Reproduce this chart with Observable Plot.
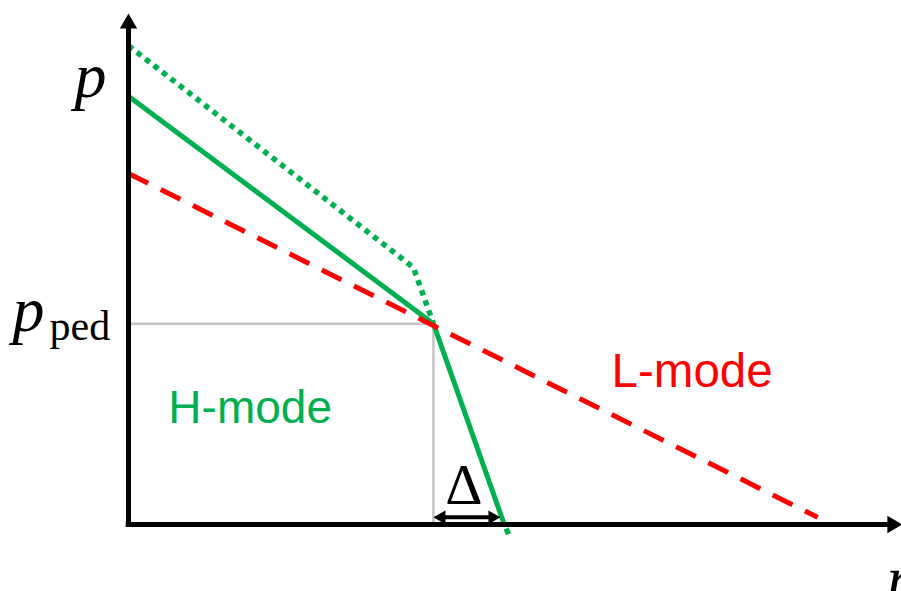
<!DOCTYPE html>
<html>
<head>
<meta charset="utf-8">
<script src="https://cdn.jsdelivr.net/npm/d3@7"></script>
<script src="https://cdn.jsdelivr.net/npm/@observablehq/plot@0.6"></script>
<style>
  html, body { margin: 0; padding: 0; background: #fff; overflow: hidden; }
  svg { display: block; }
</style>
</head>
<body>
<script>
// ---- data (schematic pressure profiles, in arbitrary units) ----
const dottedR = [0, 3.70, 3.96];      // H-mode (dotted, higher) profile
const dottedP = [9.37, 5.03, 3.93];
const dottedTailR = [4.905, 4.935];   // dotted profile, last dot below the axis
const dottedTailP = [-0.08, -0.19];
const solidR  = [0, 3.96, 4.88];      // H-mode (solid) profile
const solidP  = [8.38, 3.93, 0];
const lmodeR  = [0, 8.95];            // L-mode (dashed) profile
const lmodeP  = [6.87, 0.14];
const rPed = 3.96;                    // pedestal position
const pPed = 3.93;                    // pedestal pressure
const rDeltaEnd = 4.83;               // end of pedestal width arrow
const pDelta = 0.14;
const axisTopP = 10;                  // y-axis arrow tip
const axisEndR = 10.05;               // x-axis arrow tip

const labelP = "p";
const labelPedMain = "p";
const labelPedSub = "ped";
const labelR = "r";
const labelDelta = "Δ";
const labelH = "H-mode";
const labelL = "L-mode";

const GREEN = "#00B050";
const RED = "#FF0000";
const GRAY = "#C4C4C4";

const toRows = (R, P) => R.map((r, i) => ({r, p: P[i]}));
const dotted = toRows(dottedR, dottedP);
const dottedTail = toRows(dottedTailR, dottedTailP);
const solid = toRows(solidR, solidP);
const lmode = toRows(lmodeR, lmodeP);

const serif = "'Liberation Serif', 'Times New Roman', serif";
const sans = "'Liberation Sans', Arial, sans-serif";

const chart = Plot.plot({
  width: 901,
  height: 591,
  marginLeft: 128,
  marginRight: 3,
  marginTop: 13,
  marginBottom: 67,
  style: {background: "#fff", overflow: "visible"},
  x: {domain: [0, 10], axis: null},
  y: {domain: [0, 10], axis: null},
  marks: [
    // pedestal guide lines
    Plot.ruleY([pPed], {x1: 0, x2: rPed, stroke: GRAY, strokeWidth: 2.5}),
    Plot.ruleX([rPed], {y1: 0, y2: pPed, stroke: GRAY, strokeWidth: 2.5}),
    // profiles
    Plot.line(dotted, {x: "r", y: "p", stroke: GREEN, strokeWidth: 5.5,
      strokeDasharray: "5.5 5.2", strokeLinecap: "butt", strokeLinejoin: "miter"}),
    Plot.line(dottedTail, {x: "r", y: "p", stroke: GREEN, strokeWidth: 5.5,
      strokeLinecap: "butt"}),
    Plot.line(solid, {x: "r", y: "p", stroke: GREEN, strokeWidth: 5,
      strokeLinecap: "butt", strokeLinejoin: "miter"}),
    Plot.line(lmode, {x: "r", y: "p", stroke: RED, strokeWidth: 5,
      strokeDasharray: "22 14", strokeLinecap: "butt"}),
    // axes
    Plot.ruleX([0], {y1: -0.05, y2: 9.75, stroke: "black", strokeWidth: 5}),
    Plot.ruleY([0], {x1: -0.03, x2: 9.9, stroke: "black", strokeWidth: 5}),
    Plot.dot([{r: 0, p: axisTopP}], {x: "r", y: "p", symbol: "triangle", r: 6.43,
      fill: "black", stroke: null, dy: 10}),
    Plot.dot([{r: axisEndR, p: 0}], {x: "r", y: "p", symbol: "triangle", r: 6.43,
      fill: "black", stroke: null, dx: -10, rotate: 90}),
    // pedestal width arrow
    Plot.ruleY([pDelta], {x1: rPed + 0.1, x2: rDeltaEnd - 0.1, stroke: "black", strokeWidth: 4}),
    Plot.dot([{r: rPed, p: pDelta}], {x: "r", y: "p", symbol: "triangle", r: 5.14,
      fill: "black", stroke: null, dx: 8, rotate: -90}),
    Plot.dot([{r: rDeltaEnd, p: pDelta}], {x: "r", y: "p", symbol: "triangle", r: 5.14,
      fill: "black", stroke: null, dx: -8, rotate: 90}),
    // labels
    Plot.text([labelDelta], {x: (rPed + rDeltaEnd) / 2, y: pDelta, dx: -3, dy: -13, text: d => d,
      fontFamily: serif, fontSize: 58, fill: "black", lineAnchor: "bottom", textAnchor: "middle"}),
    Plot.text([labelP], {x: 0, y: solidP[0], dx: -54, dy: 1, text: d => d,
      fontFamily: serif, fontStyle: "italic", fontSize: 64, fill: "black",
      lineAnchor: "bottom", textAnchor: "start"}),
    Plot.text([labelPedMain], {x: 0, y: pPed, dx: -116, dy: 7, text: d => d,
      fontFamily: serif, fontStyle: "italic", fontSize: 64, fill: "black",
      lineAnchor: "bottom", textAnchor: "start"}),
    Plot.text([labelPedSub], {x: 0, y: pPed, dx: -79, dy: 16, text: d => d,
      fontFamily: serif, fontSize: 42, fill: "black",
      lineAnchor: "bottom", textAnchor: "start"}),
    Plot.text([labelR], {x: 10, y: 0, dx: -12, dy: 75, text: d => d,
      fontFamily: serif, fontStyle: "italic", fontSize: 64, fill: "black",
      lineAnchor: "bottom", textAnchor: "start"}),
    Plot.text([labelH], {x: 1.58, y: 1.98, text: d => d,
      fontFamily: sans, fontSize: 46, fill: GREEN, lineAnchor: "bottom", textAnchor: "middle"}),
    Plot.text([labelL], {x: 7.32, y: 2.70, text: d => d,
      fontFamily: sans, fontSize: 47.5, fill: RED, lineAnchor: "bottom", textAnchor: "middle"})
  ]
});
document.body.appendChild(chart);
</script>
</body>
</html>
